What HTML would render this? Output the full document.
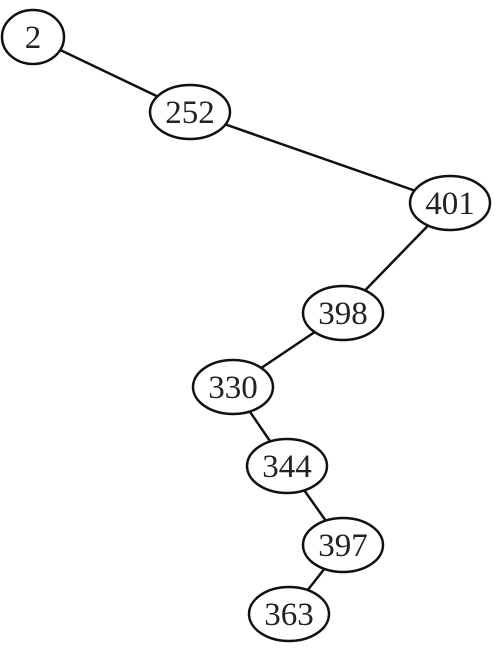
<!DOCTYPE html>
<html><head><meta charset="utf-8"><style>
html,body{margin:0;padding:0;background:#fff;}
svg{display:block;}
</style></head><body>
<svg id="tree" width="502" height="648" viewBox="0 0 502 648" xmlns="http://www.w3.org/2000/svg"></svg>
<script>
const labels = ["2","252","401","398","330","344","397","363"];
const nodeX = [33,190,450,343,233,287,343,289];
const nodeY = [37,112,203,313,387,466,545,614];
const parents = [-1,0,1,2,3,4,5,6];
const NS="http://www.w3.org/2000/svg";
const svg=document.getElementById('tree');
const edges=document.createElementNS(NS,'g');


svg.appendChild(edges);
const nodes=document.createElementNS(NS,'g');


svg.appendChild(nodes);
for(let i=0;i<labels.length;i++){
  const p=parents[i];
  if(p>=0){
    const l=document.createElementNS(NS,'line');
    l.setAttribute('x1',nodeX[p]);l.setAttribute('y1',nodeY[p]);
    l.setAttribute('x2',nodeX[i]);l.setAttribute('y2',nodeY[i]);
    l.setAttribute('stroke','#111');l.setAttribute('stroke-width','2.5');
    
    
    edges.appendChild(l);
  }
  const g=document.createElementNS(NS,'g');
  
  
  const e=document.createElementNS(NS,'ellipse');
  e.setAttribute('cx',nodeX[i]);e.setAttribute('cy',nodeY[i]);
  e.setAttribute('rx',labels[i].length===1?31:40);e.setAttribute('ry',27);
  e.setAttribute('fill','#fff');e.setAttribute('stroke','#111');e.setAttribute('stroke-width','2.5');
  g.appendChild(e);
  const t=document.createElementNS(NS,'text');
  t.setAttribute('x',nodeX[i]);t.setAttribute('y',nodeY[i]+11);
  t.setAttribute('text-anchor','middle');
  t.setAttribute('font-family','"Liberation Serif", serif');
  t.setAttribute('font-size','33');t.setAttribute('fill','#222');
  t.textContent=labels[i];
  g.appendChild(t);
  nodes.appendChild(g);
}
</script>
</body></html>
